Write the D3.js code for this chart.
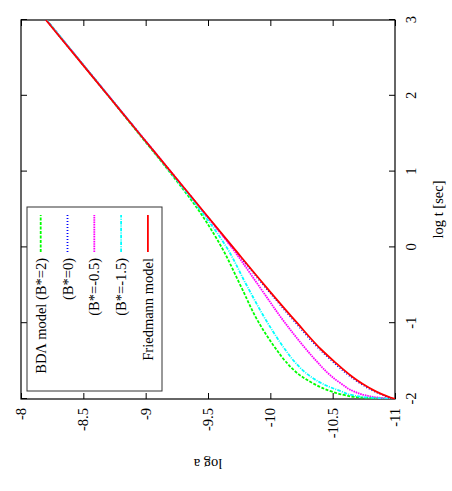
<!DOCTYPE html>
<html>
<head>
<meta charset="utf-8">
<script src="https://cdn.jsdelivr.net/npm/d3@7"></script>
<style>
  body{margin:0;background:#fff;}
  svg{display:block;}
</style>
</head>
<body>
<div id="chart"></div>
<script>
"use strict";
// log t [sec] sample points (shared by all curves)
const logT = [-2, -1.98, -1.95, -1.9, -1.8, -1.7, -1.5, -1.35, -1, -0.5, 0, 0.5, 1, 1.5, 2, 2.5, 3];
// log a for every series
const bdlB2   = [-11.00, -10.72, -10.60, -10.49, -10.35, -10.25, -10.12, -10.05, -9.91, -9.76, -9.61, -9.42, -9.19, -8.945, -8.700, -8.452, -8.205];
const bdlB0   = [-11.00, -10.955, -10.905, -10.835, -10.728, -10.64, -10.497, -10.40, -10.207, -9.947, -9.697, -9.448, -9.200, -8.951, -8.702, -8.452, -8.202];
const bdlBm05 = [-11.00, -10.86, -10.76, -10.67, -10.57, -10.49, -10.37, -10.29, -10.12, -9.905, -9.69, -9.448, -9.201, -8.952, -8.703, -8.454, -8.205];
const bdlBm15 = [-11.00, -10.78, -10.66, -10.57, -10.42, -10.32, -10.19, -10.12, -9.98, -9.81, -9.65, -9.435, -9.195, -8.950, -8.703, -8.454, -8.206];
const friedmann = [-11.00, -10.963, -10.914, -10.846, -10.739, -10.652, -10.509, -10.41, -10.217, -9.955, -9.702, -9.451, -9.201, -8.950, -8.700, -8.450, -8.200];

const seriesNames = ["BDΛ model (B*=2)", "(B*=0)", "(B*=-0.5)", "(B*=-1.5)", "Friedmann model"];
const seriesVals  = [bdlB2, bdlB0, bdlBm05, bdlBm15, friedmann];
const tTicks = [-2, -1, 0, 1, 2, 3];
const aTicks = [-8, -8.5, -9, -9.5, -10, -10.5, -11];

// gnuplot look: colours + dash styles per line type
const STY = [
  {c:"#00ff00", d:"3 1.5"},
  {c:"#0000ff", d:"1 2"},
  {c:"#ff00ff", d:"1.6 0.8"},
  {c:"#00ffff", d:"3.5 1.2 1 1.2"},
  {c:"#ff0000", d:null}
];
const FONT = "'Liberation Serif','Times New Roman',serif";

const W = 452, H = 491;
const svg = d3.select("#chart").append("svg").attr("width",W).attr("height",H);
svg.append("rect").attr("width",W).attr("height",H).attr("fill","#fff");

// the whole figure is a landscape gnuplot page turned 90° counter-clockwise
const g = svg.append("g").attr("transform",`translate(0,${H}) rotate(-90)`);
const L = 92, R = 471, T = 21, B = 395;   // plot box in the un-rotated frame
const x = d3.scaleLinear().domain([-2,3]).range([L,R]);
const y = d3.scaleLinear().domain([-11,-8]).range([B,T]);

const styleAxis = (sel)=>{
  sel.select(".domain").remove();
  sel.selectAll(".tick line").attr("stroke","#000").attr("stroke-width",1);
  sel.selectAll("text").attr("font-family",FONT).attr("font-size",14.5).attr("fill","#000");
};
g.append("g").attr("transform",`translate(0,${B})`)
  .call(d3.axisBottom(x).tickValues(tTicks).tickFormat((d)=>String(d)).tickSizeInner(-6).tickSizeOuter(0).tickPadding(11)).call(styleAxis);
g.append("g").attr("transform",`translate(0,${T})`)
  .call(d3.axisTop(x).tickValues(tTicks).tickFormat("").tickSizeInner(-6).tickSizeOuter(0)).call(styleAxis);
g.append("g").attr("transform",`translate(${L},0)`)
  .call(d3.axisLeft(y).tickValues(aTicks).tickFormat((d)=>String(d)).tickSizeInner(-6).tickSizeOuter(0).tickPadding(9)).call(styleAxis);
g.append("g").attr("transform",`translate(${R},0)`)
  .call(d3.axisRight(y).tickValues(aTicks).tickFormat("").tickSizeInner(-6).tickSizeOuter(0)).call(styleAxis);

g.append("rect").attr("x",L).attr("y",T).attr("width",R-L).attr("height",B-T)
  .attr("fill","none").attr("stroke","#000").attr("stroke-width",1.2);

// axis titles
g.append("text").attr("x",(L+R)/2).attr("y",443).attr("text-anchor","middle")
  .attr("font-family",FONT).attr("font-size",14.5).text("log t [sec]");
g.append("text").attr("transform",`translate(32,${(T+B)/2}) rotate(-90)`).attr("text-anchor","middle")
  .attr("font-family",FONT).attr("font-size",14.5).text("log a");

// curves
svg.append("defs").append("clipPath").attr("id","pc").append("rect")
  .attr("x",L).attr("y",T).attr("width",R-L).attr("height",B-T);
const line = d3.line().x((d)=>x(d[0])).y((d)=>y(d[1])).curve(d3.curveMonotoneX);
const curves = g.append("g").attr("clip-path","url(#pc)");
seriesVals.forEach((vals,i)=>{
  curves.append("path").datum(logT.map((t,k)=>[t, vals[k]]))
    .attr("d",line).attr("fill","none").attr("stroke",STY[i].c).attr("stroke-width",1.8)
    .attr("stroke-dasharray",STY[i].d);
});

// legend
const lg = g.append("g");
lg.append("rect").attr("x",100).attr("y",27).attr("width",184).attr("height",135)
  .attr("fill","none").attr("stroke","#333").attr("stroke-width",1);
seriesNames.forEach((name,i)=>{
  const ly = 40.7 + i*26.8;
  lg.append("text").attr("x",233).attr("y",ly).attr("dy","0.35em").attr("text-anchor","end")
    .attr("font-family",FONT).attr("font-size",14.5).text(name);
  lg.append("line").attr("x1",239).attr("x2",276).attr("y1",ly).attr("y2",ly)
    .attr("stroke",STY[i].c).attr("stroke-width",1.8).attr("stroke-dasharray",STY[i].d);
});
</script>
</body>
</html>
